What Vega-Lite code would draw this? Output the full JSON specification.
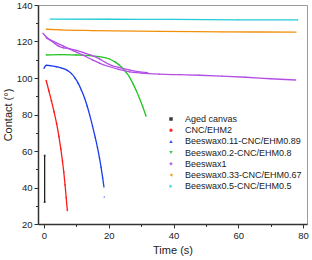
{
  "$schema": "https://vega.github.io/schema/vega-lite/v6.json",
  "width": 269,
  "height": 219,
  "autosize": "none",
  "padding": {"left": 38, "top": 5, "right": 5, "bottom": 36},
  "config": {
    "view": {"stroke": "#9a9a9a", "strokeWidth": 1},
    "font": "Liberation Sans",
    "axis": {
      "domainColor": "#333333",
      "domainWidth": 1.5,
      "tickColor": "#333333",
      "tickWidth": 1,
      "grid": false,
      "labelFont": "Liberation Sans",
      "labelFontSize": 9.5,
      "labelColor": "#222222",
      "titleFont": "Liberation Sans",
      "titleFontSize": 11,
      "titleFontWeight": "normal",
      "titleColor": "#222222"
    }
  },
  "data": {
    "values": [
      {"s": "Aged canvas", "r": "a", "t": 0.2, "v": 57.5},
      {"s": "Aged canvas", "r": "a", "t": 0.2, "v": 32},

      {"s": "CNC/EHM2", "r": "a", "t": 0.7, "v": 98.5},
      {"s": "CNC/EHM2", "r": "a", "t": 1.5, "v": 93},
      {"s": "CNC/EHM2", "r": "a", "t": 2.3, "v": 87.5},
      {"s": "CNC/EHM2", "r": "a", "t": 3.1, "v": 81.5},
      {"s": "CNC/EHM2", "r": "a", "t": 3.9, "v": 75},
      {"s": "CNC/EHM2", "r": "a", "t": 4.6, "v": 68},
      {"s": "CNC/EHM2", "r": "a", "t": 5.2, "v": 61},
      {"s": "CNC/EHM2", "r": "a", "t": 5.7, "v": 54.5},
      {"s": "CNC/EHM2", "r": "a", "t": 6.1, "v": 48.5},
      {"s": "CNC/EHM2", "r": "a", "t": 6.5, "v": 41.5},
      {"s": "CNC/EHM2", "r": "a", "t": 6.85, "v": 34.5},
      {"s": "CNC/EHM2", "r": "a", "t": 7.2, "v": 27.5},

      {"s": "Beeswax0.11-CNC/EHM0.89", "r": "a", "t": 0, "v": 105.3},
      {"s": "Beeswax0.11-CNC/EHM0.89", "r": "a", "t": 0.7, "v": 107},
      {"s": "Beeswax0.11-CNC/EHM0.89", "r": "a", "t": 2, "v": 106.8},
      {"s": "Beeswax0.11-CNC/EHM0.89", "r": "a", "t": 3.8, "v": 106.2},
      {"s": "Beeswax0.11-CNC/EHM0.89", "r": "a", "t": 5.5, "v": 105.4},
      {"s": "Beeswax0.11-CNC/EHM0.89", "r": "a", "t": 7.2, "v": 104.2},
      {"s": "Beeswax0.11-CNC/EHM0.89", "r": "a", "t": 8.5, "v": 102.4},
      {"s": "Beeswax0.11-CNC/EHM0.89", "r": "a", "t": 9.5, "v": 100.2},
      {"s": "Beeswax0.11-CNC/EHM0.89", "r": "a", "t": 10.5, "v": 97.3},
      {"s": "Beeswax0.11-CNC/EHM0.89", "r": "a", "t": 11.5, "v": 93.6},
      {"s": "Beeswax0.11-CNC/EHM0.89", "r": "a", "t": 12.5, "v": 89.2},
      {"s": "Beeswax0.11-CNC/EHM0.89", "r": "a", "t": 13.3, "v": 84.8},
      {"s": "Beeswax0.11-CNC/EHM0.89", "r": "a", "t": 14.1, "v": 79.8},
      {"s": "Beeswax0.11-CNC/EHM0.89", "r": "a", "t": 15, "v": 73.5},
      {"s": "Beeswax0.11-CNC/EHM0.89", "r": "a", "t": 15.8, "v": 67.6},
      {"s": "Beeswax0.11-CNC/EHM0.89", "r": "a", "t": 16.5, "v": 62},
      {"s": "Beeswax0.11-CNC/EHM0.89", "r": "a", "t": 17.1, "v": 56.5},
      {"s": "Beeswax0.11-CNC/EHM0.89", "r": "a", "t": 17.6, "v": 51.3},
      {"s": "Beeswax0.11-CNC/EHM0.89", "r": "a", "t": 18.1, "v": 45.5},
      {"s": "Beeswax0.11-CNC/EHM0.89", "r": "a", "t": 18.5, "v": 40.4},
      {"s": "Beeswax0.11-CNC/EHM0.89", "r": "b", "t": 18.6, "v": 35},

      {"s": "Beeswax0.2-CNC/EHM0.8", "r": "a", "t": 0.7, "v": 112.6},
      {"s": "Beeswax0.2-CNC/EHM0.8", "r": "a", "t": 5, "v": 112.8},
      {"s": "Beeswax0.2-CNC/EHM0.8", "r": "a", "t": 10, "v": 112.6},
      {"s": "Beeswax0.2-CNC/EHM0.8", "r": "a", "t": 14, "v": 112.3},
      {"s": "Beeswax0.2-CNC/EHM0.8", "r": "a", "t": 17, "v": 111.7},
      {"s": "Beeswax0.2-CNC/EHM0.8", "r": "a", "t": 20.2, "v": 110.4},
      {"s": "Beeswax0.2-CNC/EHM0.8", "r": "a", "t": 22, "v": 108.7},
      {"s": "Beeswax0.2-CNC/EHM0.8", "r": "a", "t": 23.3, "v": 107},
      {"s": "Beeswax0.2-CNC/EHM0.8", "r": "a", "t": 24.5, "v": 105},
      {"s": "Beeswax0.2-CNC/EHM0.8", "r": "a", "t": 25.4, "v": 103},
      {"s": "Beeswax0.2-CNC/EHM0.8", "r": "a", "t": 26.4, "v": 100.5},
      {"s": "Beeswax0.2-CNC/EHM0.8", "r": "a", "t": 27.5, "v": 96.8},
      {"s": "Beeswax0.2-CNC/EHM0.8", "r": "a", "t": 28.5, "v": 93},
      {"s": "Beeswax0.2-CNC/EHM0.8", "r": "a", "t": 29.5, "v": 88.8},
      {"s": "Beeswax0.2-CNC/EHM0.8", "r": "a", "t": 30.5, "v": 84.2},
      {"s": "Beeswax0.2-CNC/EHM0.8", "r": "a", "t": 31.5, "v": 79},

      {"s": "Beeswax1", "r": "a", "t": -0.3, "v": 124.5},
      {"s": "Beeswax1", "r": "a", "t": 0.7, "v": 122.5},
      {"s": "Beeswax1", "r": "a", "t": 3, "v": 120},
      {"s": "Beeswax1", "r": "a", "t": 6, "v": 117.5},
      {"s": "Beeswax1", "r": "a", "t": 9, "v": 115},
      {"s": "Beeswax1", "r": "a", "t": 12, "v": 112.5},
      {"s": "Beeswax1", "r": "a", "t": 15, "v": 109.9},
      {"s": "Beeswax1", "r": "a", "t": 17.1, "v": 108.2},
      {"s": "Beeswax1", "r": "a", "t": 20, "v": 106.3},
      {"s": "Beeswax1", "r": "a", "t": 23, "v": 104.7},
      {"s": "Beeswax1", "r": "a", "t": 26.4, "v": 103.4},
      {"s": "Beeswax1", "r": "a", "t": 30, "v": 102.7},
      {"s": "Beeswax1", "r": "a", "t": 35.6, "v": 102.1},
      {"s": "Beeswax1", "r": "a", "t": 42, "v": 101.8},
      {"s": "Beeswax1", "r": "a", "t": 48, "v": 101.5},
      {"s": "Beeswax1", "r": "a", "t": 55, "v": 101},
      {"s": "Beeswax1", "r": "a", "t": 62.3, "v": 100.4},
      {"s": "Beeswax1", "r": "a", "t": 70, "v": 99.6},
      {"s": "Beeswax1", "r": "a", "t": 77.7, "v": 98.9},
      {"s": "Beeswax1", "r": "b", "t": 0.7, "v": 122},
      {"s": "Beeswax1", "r": "b", "t": 2.5, "v": 120},
      {"s": "Beeswax1", "r": "b", "t": 4.5, "v": 117.5},
      {"s": "Beeswax1", "r": "b", "t": 6, "v": 116.5},
      {"s": "Beeswax1", "r": "b", "t": 8, "v": 116},
      {"s": "Beeswax1", "r": "b", "t": 10, "v": 115.2},
      {"s": "Beeswax1", "r": "b", "t": 12, "v": 114},
      {"s": "Beeswax1", "r": "b", "t": 14.5, "v": 112.5},
      {"s": "Beeswax1", "r": "b", "t": 17.1, "v": 110.5},
      {"s": "Beeswax1", "r": "b", "t": 19, "v": 108.5},
      {"s": "Beeswax1", "r": "b", "t": 21, "v": 106.8},
      {"s": "Beeswax1", "r": "b", "t": 23, "v": 105.8},
      {"s": "Beeswax1", "r": "b", "t": 26.4, "v": 104.4},
      {"s": "Beeswax1", "r": "b", "t": 29, "v": 103.5},
      {"s": "Beeswax1", "r": "b", "t": 32, "v": 103},

      {"s": "Beeswax0.33-CNC/EHM0.67", "r": "a", "t": 0.7, "v": 126.7},
      {"s": "Beeswax0.33-CNC/EHM0.67", "r": "a", "t": 5, "v": 126.4},
      {"s": "Beeswax0.33-CNC/EHM0.67", "r": "a", "t": 15, "v": 126},
      {"s": "Beeswax0.33-CNC/EHM0.67", "r": "a", "t": 35.6, "v": 125.5},
      {"s": "Beeswax0.33-CNC/EHM0.67", "r": "a", "t": 55, "v": 125.3},
      {"s": "Beeswax0.33-CNC/EHM0.67", "r": "a", "t": 77.7, "v": 125.1},

      {"s": "Beeswax0.5-CNC/EHM0.5", "r": "a", "t": 2, "v": 132.3},
      {"s": "Beeswax0.5-CNC/EHM0.5", "r": "a", "t": 20, "v": 132.2},
      {"s": "Beeswax0.5-CNC/EHM0.5", "r": "a", "t": 40, "v": 132.1},
      {"s": "Beeswax0.5-CNC/EHM0.5", "r": "a", "t": 60, "v": 131.9},
      {"s": "Beeswax0.5-CNC/EHM0.5", "r": "a", "t": 78.4, "v": 131.8}
    ]
  },
  "encoding": {
    "x": {
      "field": "t",
      "type": "quantitative",
      "title": "Time (s)",
      "scale": {"domain": [-1.85, 81.2], "nice": false, "zero": false},
      "axis": {
        "values": [0, 10, 20, 30, 40, 50, 60, 70, 80],
        "labelExpr": "datum.value % 20 === 0 ? datum.label : ''",
        "tickSize": {"condition": {"test": "datum.value % 20 === 0", "value": 4}, "value": 2.5},
        "labelPadding": 2,
        "titlePadding": 5,
        "labelFlush": false
      }
    },
    "y": {
      "field": "v",
      "type": "quantitative",
      "title": "Contact (°)",
      "scale": {"domain": [20, 140], "nice": false, "zero": false},
      "axis": {
        "values": [20, 30, 40, 50, 60, 70, 80, 90, 100, 110, 120, 130, 140],
        "labelExpr": "datum.value % 20 === 0 ? datum.label : ''",
        "tickSize": {"condition": {"test": "datum.value % 20 === 0", "value": 4}, "value": 2.5},
        "labelPadding": 2,
        "titlePadding": 3,
        "labelFlush": false
      }
    },
    "color": {
      "field": "s",
      "type": "nominal",
      "title": null,
      "scale": {
        "domain": ["Aged canvas", "CNC/EHM2", "Beeswax0.11-CNC/EHM0.89", "Beeswax0.2-CNC/EHM0.8", "Beeswax1", "Beeswax0.33-CNC/EHM0.67", "Beeswax0.5-CNC/EHM0.5"],
        "range": ["#222222", "#ff1a1a", "#1a3cf0", "#22c422", "#b44fe6", "#f0900a", "#22ccd6"]
      },
      "legend": {
        "orient": "none",
        "legendX": 128.5,
        "legendY": 109.5,
        "padding": 0,
        "symbolSize": 12,
        "symbolStrokeWidth": 0,
        "labelFontSize": 9,
        "labelColor": "#222222",
        "labelOffset": 9.5,
        "rowPadding": 1.2
      }
    }
  },
  "layer": [
    {
      "mark": {"type": "line", "strokeWidth": 1.3, "interpolate": "monotone"},
      "encoding": {"detail": {"field": "r"}}
    },
    {
      "mark": {"type": "point", "filled": true, "size": 3, "opacity": 0.9},
      "encoding": {
        "shape": {
          "field": "s",
          "type": "nominal",
          "title": null,
          "scale": {
            "domain": ["Aged canvas", "CNC/EHM2", "Beeswax0.11-CNC/EHM0.89", "Beeswax0.2-CNC/EHM0.8", "Beeswax1", "Beeswax0.33-CNC/EHM0.67", "Beeswax0.5-CNC/EHM0.5"],
            "range": ["square", "circle", "triangle-up", "triangle-down", "diamond", "triangle-left", "triangle-right"]
          },
          "legend": {
            "orient": "none",
            "legendX": 128.5,
            "legendY": 109.5,
            "padding": 0,
            "symbolSize": 12,
            "symbolStrokeWidth": 0,
            "labelFontSize": 9,
            "labelColor": "#222222",
            "labelOffset": 9.5,
            "rowPadding": 1.2
          }
        }
      }
    }
  ]
}
